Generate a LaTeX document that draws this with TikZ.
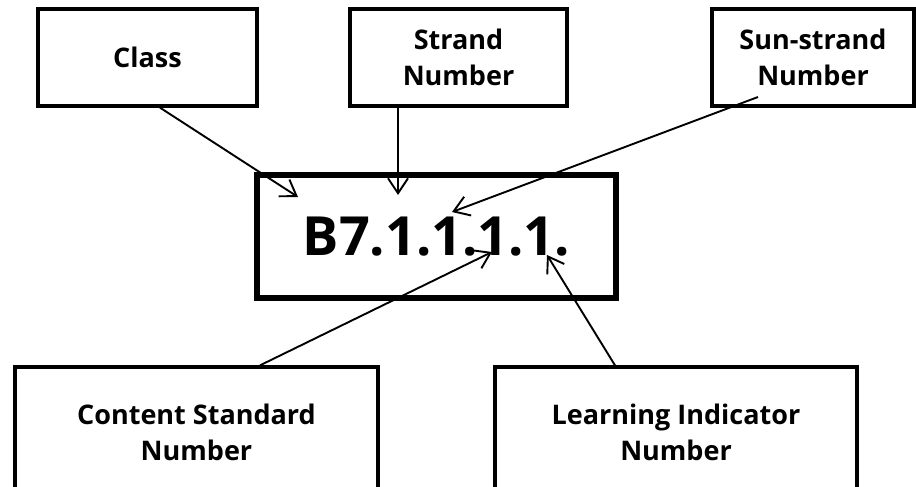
\documentclass[tikz,border=0pt]{standalone}
\usepackage{fontspec}
\setmainfont{Open Sans}
\usetikzlibrary{arrows.meta}
\begin{document}
\begin{tikzpicture}[x=1pt,y=-1pt,
  box/.style={draw, line width=3.3pt, align=center, inner sep=0pt,
    font=\bfseries\fontsize{27}{36}\selectfont},
  code/.style={draw, line width=6pt, inner sep=0pt,
    font=\bfseries\fontsize{54}{60}\selectfont},
  link/.style={line width=1.9pt,
    -{Straight Barb[length=15pt,width=20pt,line width=1.9pt]}}]
\useasboundingbox (0,0) rectangle (916,487);
\clip (0,0) rectangle (916,487);

% the code and its parts
\node[code, minimum width=359pt, minimum height=123pt] (code) at (436.5,236.5) {B7.1.1.1.1.};
\node[box, minimum width=219pt, minimum height=97pt] (class) at (147.5,57.5) {Class};
\node[box, minimum width=217pt, minimum height=97pt] (strand) at (458.5,57.5) {Strand\\Number};
\node[box, minimum width=202pt, minimum height=97pt] (sub) at (813,57.5) {Sun-strand\\Number};
\node[box, minimum width=363pt, minimum height=130pt] (content) at (196.5,432) {Content Standard\\Number};
\node[box, minimum width=362pt, minimum height=130pt] (learn) at (676,432) {Learning Indicator\\Number};

% arrow ends
\coordinate (xa) at (160,0);
\coordinate (xb) at (398,0);
\coordinate (sa) at (758,97);
\coordinate (xc) at (260,0);
\coordinate (xd) at (615,0);
\coordinate (ta) at (298,197);
\coordinate (tb) at (398,195);
\coordinate (tc) at (452,212);
\coordinate (td) at (492,252);
\coordinate (te) at (547,255);

\draw[link] (class.south -| xa) -- (ta);
\draw[link] (strand.south -| xb) -- (tb);
\draw[link] (sa) -- (tc);
\draw[link] (content.north -| xc) -- (td);
\draw[link] (learn.north -| xd) -- (te);
\end{tikzpicture}
\end{document}
